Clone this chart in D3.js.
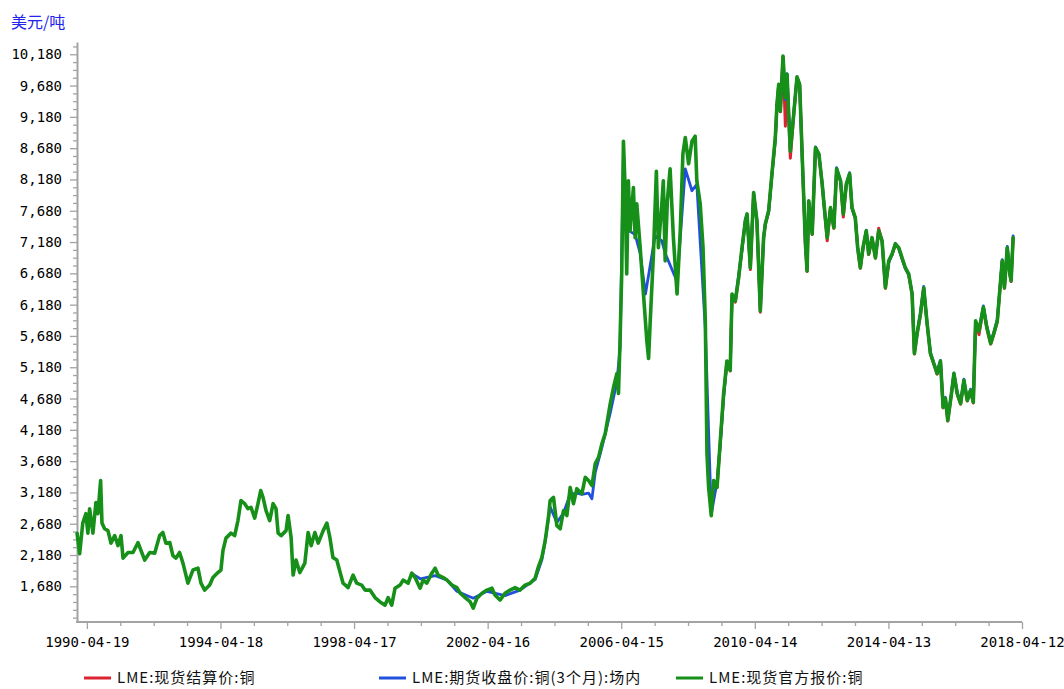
<!DOCTYPE html>
<html><head><meta charset="utf-8">
<script src="https://cdn.jsdelivr.net/npm/d3@7"></script>
<style>
html,body{margin:0;padding:0;background:#fff;}
svg{display:block;}
</style></head>
<body>
<svg id="chart" width="1064" height="689"></svg>
<script>
// ---- DATA ----
const unitLabel = "美元/吨";
const seriesNames = ["LME:现货结算价:铜", "LME:期货收盘价:铜(3个月):场内", "LME:现货官方报价:铜"];
const seriesColors = ["#dc2332", "#2150dc", "#17901a"];
const xTickStart = "1990-04-19";
const yMajorTicks = [1680,2180,2680,3180,3680,4180,4680,5180,5680,6180,6680,7180,7680,8180,8680,9180,9680,10180];

// LME spot official price (green)
const spotOfficial = [
["1990-01-02",2525],["1990-01-30",2200],["1990-03-05",2690],["1990-04-08",2840],["1990-04-30",2530],["1990-05-19",2920],
["1990-06-24",2530],["1990-07-27",3020],["1990-08-18",2840],["1990-09-16",3370],["1990-10-01",2690],["1990-10-30",2600],
["1990-12-05",2570],["1990-12-24",2460],["1991-01-07",2370],["1991-02-17",2490],["1991-03-25",2330],["1991-04-27",2490],
["1991-05-19",2130],["1991-07-13",2220],["1991-09-05",2220],["1991-10-30",2380],["1991-12-02",2250],["1992-01-11",2100],
["1992-03-06",2220],["1992-04-29",2210],["1992-06-22",2490],["1992-07-27",2540],["1992-08-29",2370],["1992-10-11",2380],
["1992-11-14",2170],["1992-12-17",2130],["1993-01-26",2220],["1993-03-04",2050],["1993-04-27",1730],["1993-06-21",1940],
["1993-08-15",1970],["1993-09-17",1730],["1993-10-27",1620],["1993-12-21",1700],["1994-01-26",1820],["1994-03-21",1900],
["1994-04-23",1940],["1994-05-15",2250],["1994-06-17",2450],["1994-08-11",2530],["1994-09-20",2490],["1994-10-26",2730],
["1994-11-28",3050],["1995-01-08",3000],["1995-02-13",2920],["1995-03-18",2940],["1995-04-27",2770],["1995-06-02",3000],
["1995-07-02",3210],["1995-07-27",3100],["1995-08-29",2890],["1995-10-08",2730],["1995-11-14",3000],["1995-12-16",2920],
["1996-01-08",2530],["1996-02-10",2490],["1996-04-04",2570],["1996-04-26",2810],["1996-05-29",2460],["1996-06-20",1860],
["1996-07-22",2100],["1996-09-01",1900],["1996-10-26",2050],["1996-12-01",2540],["1997-01-03",2330],["1997-02-13",2540],
["1997-03-21",2370],["1997-05-15",2570],["1997-06-24",2690],["1997-07-27",2460],["1997-08-29",2140],["1997-10-10",2100],
["1997-12-18",1730],["1998-02-11",1660],["1998-04-06",1860],["1998-05-16",1730],["1998-07-09",1700],["1998-08-15",1620],
["1998-10-08",1620],["1998-12-02",1500],["1999-01-26",1430],["1999-03-22",1380],["1999-04-24",1500],["1999-06-03",1380],
["1999-07-09",1650],["1999-09-02",1700],["1999-10-05",1780],["1999-11-29",1730],["2000-01-08",1890],["2000-02-13",1820],
["2000-04-08",1650],["2000-05-11",1780],["2000-06-20",1730],["2000-08-14",1890],["2000-09-19",1970],["2000-10-22",1860],
["2000-12-16",1820],["2001-01-26",1780],["2001-03-22",1700],["2001-05-15",1660],["2001-06-20",1570],["2001-08-14",1500],
["2001-10-08",1430],["2001-11-10",1330],["2001-12-20",1490],["2002-02-13",1570],["2002-04-08",1620],["2002-06-02",1650],
["2002-07-05",1540],["2002-08-29",1460],["2002-10-23",1570],["2002-12-17",1620],["2003-02-10",1660],["2003-04-05",1620],
["2003-05-30",1700],["2003-07-24",1730],["2003-09-17",1810],["2003-10-20",1980],["2003-11-29",2140],["2004-01-05",2410],
["2004-02-10",2790],["2004-02-28",3050],["2004-04-05",3100],["2004-05-11",2650],["2004-06-17",2600],["2004-07-23",2890],
["2004-08-29",2810],["2004-10-04",3260],["2004-11-09",3000],["2004-12-16",3240],["2005-02-09",3160],["2005-03-18",3420],
["2005-04-23",3370],["2005-05-30",3290],["2005-07-05",3640],["2005-08-10",3740],["2005-09-16",3960],["2005-10-22",4120],
["2005-12-16",4600],["2006-01-21",4860],["2006-02-27",5080],["2006-03-16",4760],["2006-04-03",5660],["2006-04-21",6720],
["2006-05-09",8790],["2006-05-27",8050],["2006-06-14",6670],["2006-07-02",8160],["2006-07-20",7360],["2006-08-26",8050],
["2006-09-14",7250],["2006-10-02",7790],["2006-11-08",7090],["2006-12-14",6350],["2007-01-20",5600],["2007-02-08",5320],
["2007-02-26",5920],["2007-04-02",6990],["2007-05-04",8310],["2007-05-26",7090],["2007-07-03",7790],["2007-07-19",8160],
["2007-08-08",6880],["2007-09-01",7840],["2007-10-01",8350],["2007-11-06",7250],["2007-12-16",6350],["2008-01-20",7360],
["2008-02-18",8590],["2008-03-15",8850],["2008-04-20",8430],["2008-05-27",8790],["2008-07-01",8870],["2008-07-19",8160],
["2008-08-25",7790],["2008-09-25",7090],["2008-10-20",5920],["2008-11-07",3800],["2008-11-25",3260],["2008-12-24",2810],
["2009-01-19",3370],["2009-02-25",3260],["2009-04-02",4010],["2009-05-08",4760],["2009-06-13",5280],["2009-07-19",5130],
["2009-08-08",6350],["2009-09-13",6240],["2009-10-19",6610],["2009-11-25",7090],["2010-01-01",7520],["2010-01-19",7630],
["2010-02-24",6770],["2010-04-01",7970],["2010-05-07",7520],["2010-06-13",6080],["2010-07-01",6670],["2010-07-19",7250],
["2010-08-07",7470],["2010-09-12",7680],["2010-10-18",8270],["2010-11-24",8850],["2010-12-12",9380],["2010-12-31",9700],
["2011-01-18",9270],["2011-02-16",10150],["2011-03-14",9490],["2011-04-01",9860],["2011-04-19",9220],["2011-05-07",8630],
["2011-06-13",9220],["2011-07-19",9820],["2011-08-17",9700],["2011-09-13",8590],["2011-10-19",7150],["2011-11-06",6720],
["2011-11-24",7840],["2012-01-01",7310],["2012-02-06",8690],["2012-03-14",8590],["2012-04-19",8110],["2012-05-26",7520],
["2012-06-13",7250],["2012-07-19",7730],["2012-08-25",7410],["2012-09-24",8350],["2012-11-06",8160],["2012-12-06",7630],
["2013-01-08",8110],["2013-02-13",8270],["2013-03-11",7730],["2013-04-16",7570],["2013-05-12",7090],["2013-06-10",6770],
["2013-07-09",7090],["2013-08-14",7360],["2013-09-09",6990],["2013-10-16",7250],["2013-11-22",6930],["2013-12-28",7360],
["2014-02-03",7200],["2014-03-11",6450],["2014-04-17",6880],["2014-05-23",6990],["2014-06-28",7150],["2014-08-04",7090],
["2014-09-09",6930],["2014-10-15",6770],["2014-11-21",6670],["2014-12-28",6350],["2015-01-22",5400],["2015-02-21",5720],
["2015-03-29",6030],["2015-05-04",6450],["2015-06-10",5880],["2015-07-16",5400],["2015-08-22",5240],["2015-09-27",5080],
["2015-11-03",5280],["2015-12-02",4540],["2015-12-27",4680],["2016-01-22",4330],["2016-03-02",4760],["2016-03-29",5080],
["2016-05-04",4760],["2016-06-10",4600],["2016-07-16",4970],["2016-08-22",4650],["2016-09-27",4810],["2016-10-27",4620],
["2016-11-21",5920],["2016-12-28",5760],["2017-02-14",6140],["2017-03-23",5820],["2017-05-05",5560],["2017-06-08",5720],
["2017-07-16",5920],["2017-08-12",6400],["2017-09-08",6880],["2017-10-02",6450],["2017-11-02",7090],["2017-11-30",6670],
["2017-12-14",6560],["2018-01-05",7250]
];

// LME 3-month futures close (blue)
const futures3m = [
["2000-01-10",1880],["2000-04-10",1800],["2000-09-20",1850],["2001-01-25",1780],["2001-05-15",1600],["2001-11-10",1490],
["2002-04-08",1600],["2002-10-23",1530],["2003-04-05",1620],["2003-09-17",1790],["2003-11-29",2100],["2004-01-05",2400],
["2004-02-28",2950],["2004-05-11",2700],["2004-07-23",2850],["2004-10-04",3150],["2004-12-16",3170],["2005-02-09",3150],
["2005-04-23",3170],["2005-05-30",3080],["2005-07-05",3500],["2005-09-16",3900],["2005-12-16",4450],["2006-02-27",4950],
["2006-04-03",5500],["2006-05-09",8600],["2006-06-14",7500],["2006-07-20",7350],["2006-09-14",7300],["2006-11-08",7000],
["2007-01-05",6350],["2007-04-20",7280],["2007-07-03",7200],["2007-08-08",7000],["2007-12-16",6550],["2008-03-15",8350],
["2008-05-27",8000],["2008-07-19",8100],["2008-10-20",5800],["2008-12-24",2830],["2009-02-25",3350],["2009-04-02",3950],
["2009-05-08",4700],["2009-06-13",5250],["2009-07-19",5150],["2009-08-08",6300],["2009-09-13",6250],["2009-10-19",6650],
["2009-11-25",7050],["2010-01-01",7550],["2010-01-19",7600],["2010-02-24",6800],["2010-04-01",7950],["2010-05-07",7500],
["2010-06-13",6100],["2010-07-01",6690],["2010-07-19",7250],["2010-08-07",7480],["2010-09-12",7660],["2010-10-18",8250],
["2010-11-24",8800],["2010-12-12",9350],["2010-12-31",9690],["2011-01-18",9300],["2011-02-16",10120],["2011-03-14",9460],
["2011-04-01",9870],["2011-04-19",9250],["2011-05-07",8650],["2011-06-13",9240],["2011-07-19",9800],["2011-08-17",9690],
["2011-09-13",8560],["2011-10-19",7170],["2011-11-06",6750],["2011-11-24",7820],["2012-01-01",7330],["2012-02-06",8700],
["2012-03-14",8580],["2012-04-19",8120],["2012-05-26",7510],["2012-06-13",7270],["2012-07-19",7720],["2012-08-25",7430],
["2012-09-24",8370],["2012-11-06",8150],["2012-12-06",7650],["2013-01-08",8100],["2013-02-13",8290],["2013-03-11",7720],
["2013-04-16",7560],["2013-05-12",7110],["2013-06-10",6790],["2013-07-09",7080],["2013-08-14",7370],["2013-09-09",7000],
["2013-10-16",7230],["2013-11-22",6950],["2013-12-28",7350],["2014-02-03",7180],["2014-03-11",6470],["2014-04-17",6860],
["2014-05-23",6980],["2014-06-28",7160],["2014-08-04",7080],["2014-09-09",6910],["2014-10-15",6760],["2014-11-21",6650],
["2014-12-28",6370],["2015-01-22",5420],["2015-02-21",5740],["2015-03-29",6050],["2015-05-04",6470],["2015-06-10",5870],
["2015-07-16",5420],["2015-08-22",5250],["2015-09-27",5100],["2015-11-03",5290],["2015-12-02",4560],["2015-12-27",4700],
["2016-01-22",4350],["2016-03-02",4770],["2016-03-29",5090],["2016-05-04",4780],["2016-06-10",4620],["2016-07-16",4990],
["2016-08-22",4670],["2016-09-27",4830],["2016-10-27",4640],["2016-11-21",5900],["2016-12-28",5780],["2017-02-14",6160],
["2017-03-23",5840],["2017-05-05",5580],["2017-06-08",5740],["2017-07-16",5940],["2017-08-12",6420],["2017-09-08",6900],
["2017-10-02",6470],["2017-11-02",7110],["2017-11-30",6690],["2017-12-14",6580],["2018-01-05",7280]
];

// LME spot settlement price (red)
const spotSettlement = [
["2009-01-19",3370],["2009-02-25",3260],["2009-04-02",4000],["2009-05-08",4740],["2009-06-13",5270],["2009-07-19",5120],
["2009-08-08",6330],["2009-09-13",6220],["2009-10-19",6600],["2009-11-25",7080],["2010-01-01",7510],["2010-01-19",7620],
["2010-02-24",6740],["2010-04-01",7960],["2010-05-07",7510],["2010-06-13",6060],["2010-07-01",6660],["2010-07-19",7240],
["2010-08-07",7460],["2010-09-12",7670],["2010-10-18",8260],["2010-11-24",8840],["2010-12-12",9370],["2010-12-31",9690],
["2011-01-18",9260],["2011-02-16",10140],["2011-03-14",9030],["2011-04-01",9850],["2011-04-19",9210],["2011-05-07",8520],
["2011-06-13",9210],["2011-07-19",9810],["2011-08-17",9690],["2011-09-13",8580],["2011-10-19",7140],["2011-11-06",6710],
["2011-11-24",7830],["2012-01-01",7300],["2012-02-06",8680],["2012-03-14",8580],["2012-04-19",8100],["2012-05-26",7510],
["2012-06-13",7200],["2012-07-19",7720],["2012-08-25",7400],["2012-09-24",8340],["2012-11-06",8150],["2012-12-06",7580],
["2013-01-08",8100],["2013-02-13",8260],["2013-03-11",7720],["2013-04-16",7560],["2013-05-12",7080],["2013-06-10",6760],
["2013-07-09",7080],["2013-08-14",7350],["2013-09-09",6980],["2013-10-16",7240],["2013-11-22",6920],["2013-12-28",7400],
["2014-02-03",7190],["2014-03-11",6440],["2014-04-17",6870],["2014-05-23",6980],["2014-06-28",7140],["2014-08-04",7080],
["2014-09-09",6920],["2014-10-15",6760],["2014-11-21",6660],["2014-12-28",6340],["2015-01-22",5390],["2015-02-21",5710],
["2015-03-29",6020],["2015-05-04",6440],["2015-06-10",5870],["2015-07-16",5390],["2015-08-22",5230],["2015-09-27",5070],
["2015-11-03",5270],["2015-12-02",4530],["2015-12-27",4670],["2016-01-22",4320],["2016-03-02",4750],["2016-03-29",5070],
["2016-05-04",4750],["2016-06-10",4590],["2016-07-16",4960],["2016-08-22",4640],["2016-09-27",4800],["2016-10-27",4610],
["2016-11-21",5910],["2016-12-28",5700],["2017-02-14",6130],["2017-03-23",5810],["2017-05-05",5550],["2017-06-08",5710],
["2017-07-16",5910],["2017-08-12",6390],["2017-09-08",6870],["2017-10-02",6440],["2017-11-02",7080],["2017-11-30",6660],
["2017-12-14",6550],["2018-01-05",7240]
];

// ---- CHART ----
const parse = d3.timeParse("%Y-%m-%d");
const svg = d3.select("#chart");
const x = d3.scaleTime().domain([parse("1990-01-01"), parse("2018-04-12")]).range([77, 1022]);
const y = d3.scaleLinear().domain([1110, 10376]).range([622, 42]);

const tickFont = "'DejaVu Sans Mono', 'Liberation Mono', monospace";
const cjkFont = "'Noto Sans CJK SC', 'DejaVu Sans', sans-serif";
const axisColor = "#a3a3a3";

// unit label
svg.append("text").attr("x", 11).attr("y", 28).attr("font-family", cjkFont)
  .attr("font-size", 16).attr("fill", "#2323ee").text(unitLabel);

// y axis
const yMinor = d3.range(1180, 10380, 125).filter(v => !yMajorTicks.includes(v));
const gyMinor = svg.append("g").attr("transform", "translate(77,0)")
  .call(d3.axisLeft(y).tickValues(yMinor).tickSize(4).tickSizeOuter(0).tickFormat(""));
const gy = svg.append("g").attr("transform", "translate(77,0)")
  .call(d3.axisLeft(y).tickValues(yMajorTicks).tickSize(7).tickSizeOuter(0).tickPadding(8).tickFormat(d3.format(",")));

// x axis
const t0 = parse(xTickStart);
const xAllTicks = d3.range(0, 29).map(k => d3.timeDay.offset(t0, k * 365));
const xMajor = xAllTicks.filter((d, i) => i % 4 === 0);
const xMinor = xAllTicks.filter((d, i) => i % 4 !== 0);
const gxMinor = svg.append("g").attr("transform", "translate(0,622)")
  .call(d3.axisBottom(x).tickValues(xMinor).tickSize(4).tickSizeOuter(0).tickFormat(""));
const gx = svg.append("g").attr("transform", "translate(0,622)")
  .call(d3.axisBottom(x).tickValues(xMajor).tickSize(7).tickSizeOuter(0).tickPadding(8).tickFormat(d3.timeFormat("%Y-%m-%d")));

[gyMinor, gy, gxMinor, gx].forEach(g => {
  g.select(".domain").attr("stroke", axisColor).attr("stroke-width", 2);
  g.selectAll(".tick line").attr("stroke", axisColor).attr("stroke-width", 1.3);
  g.selectAll(".tick text").attr("font-family", tickFont).attr("font-size", 14).attr("fill", "#000");
});
gxMinor.select(".domain").remove(); gyMinor.select(".domain").remove();
gx.select(".domain").attr("d", "M76,0H1022");

// lines
const line = d3.line().x(d => x(parse(d[0]))).y(d => y(d[1]));
const allSeries = [spotSettlement, futures3m, spotOfficial];
const widths = [3, 2.8, 3.6];
allSeries.forEach((s, i) => {
  svg.append("path").datum(s).attr("d", line).attr("fill", "none")
    .attr("stroke", seriesColors[i]).attr("stroke-width", widths[i])
    .attr("stroke-linejoin", "round").attr("stroke-linecap", "round");
});

// legend
const legendX = [84, 379, 676];
const lg = svg.append("g").attr("transform", "translate(0,678)");
seriesNames.forEach((n, i) => {
  lg.append("line").attr("x1", legendX[i]).attr("x2", legendX[i] + 27).attr("y1", 0).attr("y2", 0)
    .attr("stroke", seriesColors[i]).attr("stroke-width", 3);
  lg.append("text").attr("x", legendX[i] + 33).attr("y", 0).attr("dy", "0.35em")
    .attr("font-family", cjkFont).attr("font-size", 15).attr("letter-spacing", 1)
    .attr("fill", "#111").text(n);
});
</script>
</body></html>
